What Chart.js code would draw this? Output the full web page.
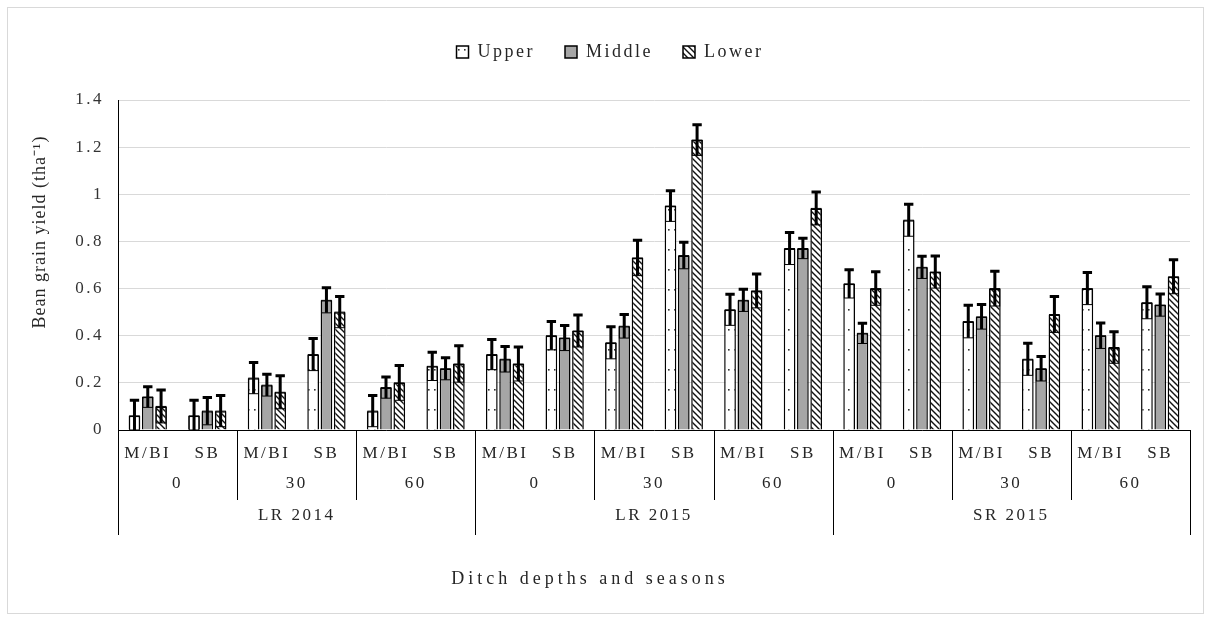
<!DOCTYPE html>
<html>
<head>
<meta charset="utf-8">
<script src="https://cdn.jsdelivr.net/npm/chart.js@4"></script>
<style>
  html, body { margin: 0; padding: 0; background: #fff; }
  #wrap { width: 1209px; height: 617px; position: relative; }
</style>
</head>
<body>
<div id="wrap"><canvas id="myChart"></canvas></div>
<script>
const ctx = document.getElementById("myChart");

// categories
const seasons = ["LR 2014", "LR 2015", "SR 2015"];
const depths = ["0", "30", "60"];
const practices = ["M/BI", "SB"];

// bean grain yield (t ha-1), one value per practice/depth/season
const upper = [0.06, 0.06, 0.22, 0.32, 0.08, 0.27, 0.32, 0.40, 0.37, 0.95, 0.51, 0.77, 0.62, 0.89, 0.46, 0.30, 0.60, 0.54];
const middle = [0.14, 0.08, 0.19, 0.55, 0.18, 0.26, 0.30, 0.39, 0.44, 0.74, 0.55, 0.77, 0.41, 0.69, 0.48, 0.26, 0.40, 0.53];
const lower = [0.10, 0.08, 0.16, 0.50, 0.20, 0.28, 0.28, 0.42, 0.73, 1.23, 0.59, 0.94, 0.60, 0.67, 0.60, 0.49, 0.35, 0.65];

// standard errors
const upperErr = [0.066, 0.066, 0.066, 0.068, 0.066, 0.06, 0.064, 0.06, 0.068, 0.065, 0.066, 0.068, 0.06, 0.068, 0.069, 0.068, 0.068, 0.068];
const middleErr = [0.044, 0.058, 0.046, 0.053, 0.045, 0.047, 0.054, 0.053, 0.05, 0.056, 0.047, 0.043, 0.043, 0.047, 0.052, 0.052, 0.054, 0.047];
const lowerErr = [0.07, 0.066, 0.07, 0.066, 0.074, 0.077, 0.072, 0.068, 0.075, 0.065, 0.072, 0.07, 0.071, 0.068, 0.074, 0.076, 0.067, 0.072];

const yTicks = [0, 0.2, 0.4, 0.6, 0.8, 1, 1.2, 1.4];

const yTitle = "Bean grain yield (tha⁻¹)";
const xTitle = "Ditch depths and seasons";

const labels = [];
seasons.forEach(() => depths.forEach(() => practices.forEach((p) => labels.push(p))));

const SERIF = "'Liberation Serif', 'Times New Roman', serif";
const TEXTO = "#262626";

// fill patterns
const patronPuntos = () => {
  const c = document.createElement("canvas");
  c.width = 6; c.height = 20;
  const g = c.getContext("2d");
  g.fillStyle = "#fff";
  g.fillRect(0, 0, 6, 20);
  g.fillStyle = "#333";
  g.fillRect(2, 9, 1.6, 1.6);
  return g.createPattern(c, "repeat");
};

const patronRayas = () => {
  const s = 6;
  const c = document.createElement("canvas");
  c.width = s; c.height = s;
  const g = c.getContext("2d");
  g.fillStyle = "#fff";
  g.fillRect(0, 0, s, s);
  g.strokeStyle = "#111";
  g.lineWidth = 1.4;
  g.beginPath();
  g.moveTo(-1, -1); g.lineTo(s + 1, s + 1);
  g.moveTo(-1, s - 1); g.lineTo(1, s + 1);
  g.moveTo(s - 1, -1); g.lineTo(s + 1, 1);
  g.stroke();
  return g.createPattern(c, "repeat");
};

const errores = [upperErr, middleErr, lowerErr];

// the source text is drawn wide, so give every label some letter spacing
const espaciado = {
  id: "espaciado",
  afterInit(chart) {
    const fitOriginal = chart.legend.fit;
    chart.legend.fit = function () {
      fitOriginal.call(this);
      this.height = 87;
    };
  },
  beforeLayout(chart) { chart.ctx.letterSpacing = "2.5px"; },
  beforeDraw(chart) {
    const g = chart.ctx;
    g.letterSpacing = "2.5px";
    g.save();
    g.strokeStyle = "#d9d9d9";
    g.lineWidth = 1;
    g.strokeRect(7.5, 7.5, chart.width - 13, chart.height - 11);
    g.restore();
  },
};

const barrasError = {
  id: "barrasError",
  afterDatasetsDraw(chart) {
    const g = chart.ctx;
    const y = chart.scales.y;
    g.save();
    chart.data.datasets.forEach((ds, i) => {
      const meta = chart.getDatasetMeta(i);
      meta.data.forEach((bar, j) => {
        const v = ds.data[j];
        const e = errores[i][j];
        const yv = y.getPixelForValue(v);
        const yHi = y.getPixelForValue(v + e);
        const yLo = y.getPixelForValue(Math.max(v - e, 0));
        const w = bar.width;
        g.strokeStyle = "#000";
        g.lineWidth = 1;
        g.strokeRect(bar.x - w / 2 + 1, yv, w - 2, yLo - yv);
        g.lineWidth = 3;
        g.beginPath();
        g.moveTo(bar.x, yLo);
        g.lineTo(bar.x, yHi);
        g.moveTo(bar.x - w * 0.4, yHi);
        g.lineTo(bar.x + w * 0.4, yHi);
        g.stroke();
      });
    });
    g.restore();
  },
};

const ejeMultinivel = {
  id: "ejeMultinivel",
  afterDraw(chart) {
    const g = chart.ctx;
    const x = chart.scales.x;
    const area = chart.chartArea;
    const n = labels.length;
    const w = (area.right - area.left) / n;
    const y0 = area.bottom;
    g.save();
    g.strokeStyle = "#000";
    g.lineWidth = 1;
    for (let k = 0; k <= n; k += 2) {
      const px = Math.round(area.left + k * w) + 0.5;
      const largo = k % 6 === 0 ? 105 : 70;
      g.beginPath();
      g.moveTo(px, y0);
      g.lineTo(px, y0 + largo);
      g.stroke();
    }
    g.fillStyle = TEXTO;
    g.font = "17px " + SERIF;
    g.letterSpacing = "2.5px";
    g.textAlign = "center";
    g.textBaseline = "middle";
    let k = 0;
    seasons.forEach((s, si) => {
      depths.forEach((d) => {
        const cx = (x.getPixelForValue(k) + x.getPixelForValue(k + 1)) / 2;
        g.fillText(d, cx, y0 + 54);
        k += 2;
      });
      const cx = (x.getPixelForValue(si * 6) + x.getPixelForValue(si * 6 + 5)) / 2;
      g.fillText(s, cx, y0 + 86);
    });

    // axis titles
    g.font = "18px " + SERIF;
    g.letterSpacing = "4px";
    g.fillText(xTitle, 590, 579);
    g.save();
    g.translate(40, 232);
    g.rotate(-Math.PI / 2);
    g.letterSpacing = "1px";
    g.fillText(yTitle, 0, 0);
    g.restore();
    g.restore();
  },
};

const pintarGrafica = () => {
  new Chart(ctx, {
    type: "bar",
    data: {
      labels: labels,
      datasets: [
        { label: "Upper", data: upper, backgroundColor: patronPuntos(), borderColor: "#000", borderWidth: 1.5 },
        { label: "Middle", data: middle, backgroundColor: "#a6a6a6", borderColor: "#000", borderWidth: 1.5 },
        { label: "Lower", data: lower, backgroundColor: patronRayas(), borderColor: "#000", borderWidth: 1.5 },
      ],
    },
    plugins: [espaciado, barrasError, ejeMultinivel],
    options: {
      responsive: true,
      maintainAspectRatio: false,
      animation: false,
      datasets: { bar: { categoryPercentage: 0.67, barPercentage: 0.88 } },
      layout: { padding: { left: 30, right: 19, top: 13, bottom: 29 } },
      plugins: {
        tooltip: { enabled: false },
        legend: {
          position: "top",
          labels: {
            boxWidth: 12,
            boxHeight: 12,
            padding: 30,
            color: TEXTO,
            font: { family: SERIF, size: 18 },
          },
        },
      },
      scales: {
        x: {
          grid: { display: false, drawTicks: false },
          border: { display: true, color: "#000", width: 1 },
          ticks: { color: TEXTO, font: { family: SERIF, size: 17 }, padding: 13, maxRotation: 0, autoSkip: false },
          afterFit: (scale) => { scale.height = 158; },
        },
        y: {
          min: 0,
          max: 1.4,
          afterBuildTicks: (scale) => { scale.ticks = yTicks.map((v) => ({ value: v })); },
          grid: { color: "#d9d9d9", drawTicks: false },
          border: { display: true, color: "#000", width: 1 },
          ticks: { color: "#333", font: { family: SERIF, size: 17 }, padding: 14, callback: (v) => String(v) },
          afterFit: (scale) => { scale.width = 88; },
        },
      },
    },
  });
};

window.addEventListener("load", pintarGrafica);
</script>
</body>
</html>
